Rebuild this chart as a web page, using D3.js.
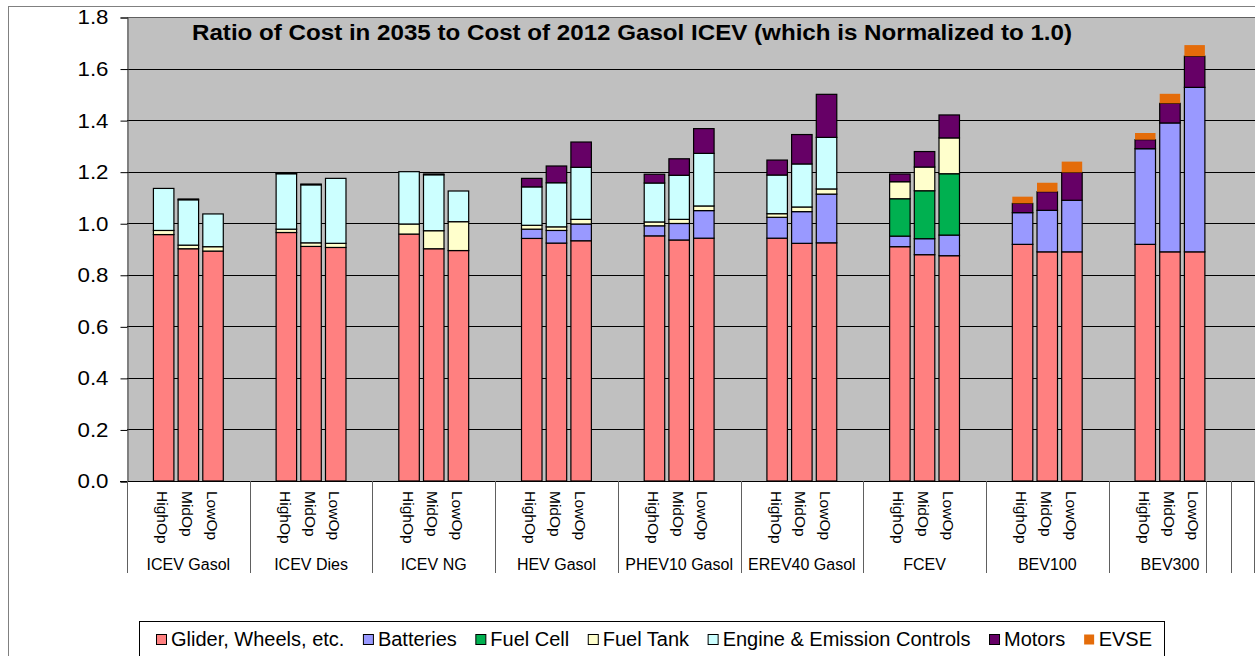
<!DOCTYPE html>
<html>
<head>
<meta charset="utf-8">
<script src="https://cdn.jsdelivr.net/npm/d3@7"></script>
<style>
  body { margin: 0; background: #fff; }
  svg { display: block; font-family: "Liberation Sans", Arial, sans-serif; }
</style>
</head>
<body>
<div id="chart"></div>
<script>
// categories
var groups = ["ICEV Gasol", "ICEV Dies", "ICEV NG", "HEV Gasol", "PHEV10 Gasol", "EREV40 Gasol", "FCEV", "BEV100", "BEV300", ""];
var subs = ["HighOp", "MidOp", "LowOp"];
var yTicks = [0, 0.2, 0.4, 0.6, 0.8, 1.0, 1.2, 1.4, 1.6, 1.8];

// series values, 3 per group (HighOp, MidOp, LowOp), groups in order above
var glider    = [0.956, 0.901, 0.892,  0.964, 0.910, 0.906,  0.958, 0.901, 0.894,  0.941, 0.923, 0.932,  0.951, 0.935, 0.942,  0.942, 0.922, 0.924,  0.909, 0.878, 0.874,  0.918, 0.889, 0.889,  0.918, 0.889, 0.889];
var batteries = [0, 0, 0,              0, 0, 0,              0, 0, 0,              0.036, 0.049, 0.065,  0.039, 0.064, 0.107,  0.081, 0.123, 0.189,  0.041, 0.062, 0.080,  0.123, 0.161, 0.200,  0.371, 0.500, 0.638];
var fuelCell  = [0, 0, 0,              0, 0, 0,              0, 0, 0,              0, 0, 0,              0, 0, 0,              0, 0, 0,              0.145, 0.186, 0.238,  0, 0, 0,              0, 0, 0];
var fuelTank  = [0.016, 0.014, 0.017,  0.013, 0.014, 0.016,  0.039, 0.070, 0.112,  0.015, 0.014, 0.018,  0.015, 0.016, 0.018,  0.014, 0.018, 0.020,  0.066, 0.092, 0.139,  0, 0, 0,              0, 0, 0];
var engine    = [0.163, 0.176, 0.127,  0.215, 0.225, 0.252,  0.203, 0.217, 0.119,  0.149, 0.171, 0.202,  0.151, 0.171, 0.204,  0.150, 0.167, 0.200,  0, 0, 0,              0, 0, 0,              0, 0, 0];
var motors    = [0, 0.003, 0,          0.003, 0.003, 0,      0, 0.003, 0,          0.033, 0.065, 0.098,  0.034, 0.064, 0.096,  0.058, 0.114, 0.167,  0.030, 0.060, 0.089,  0.036, 0.072, 0.108,  0.035, 0.076, 0.121];
var evse      = [0, 0, 0,              0, 0, 0,              0, 0, 0,              0, 0, 0,              0, 0, 0,              0, 0, 0,              0, 0, 0,              0.026, 0.035, 0.042,  0.026, 0.037, 0.043];

var seriesNames = ["Glider, Wheels, etc.", "Batteries", "Fuel Cell", "Fuel Tank", "Engine & Emission Controls", "Motors", "EVSE"];
var seriesValues = [glider, batteries, fuelCell, fuelTank, engine, motors, evse];
var seriesColors = ["#FF8080", "#9999FF", "#00B050", "#FFFFCC", "#CCFFFF", "#660066", "#E46C0A"];

var title = "Ratio of Cost in 2035 to Cost of 2012 Gasol ICEV (which is Normalized to 1.0)";

// build table for d3.stack
var rows = [];
groups.slice(0, 9).forEach(function(g, gi) {
  subs.forEach(function(s, si) {
    var row = { group: g, sub: s };
    seriesNames.forEach(function(n, k) { row[n] = seriesValues[k][gi * 3 + si]; });
    rows.push(row);
  });
});

var width = 1255, height = 656;
var plotLeft = 127, plotTop = 17, plotBottom = 481;
var groupW = 122.7;

var svg = d3.select('#chart').append('svg')
  .attr('width', width)
  .attr('height', height);

// outer chart border
svg.append('rect')
  .attr('x', 8.5).attr('y', 6.5)
  .attr('width', 1400).attr('height', 800)
  .attr('fill', 'none').attr('stroke', '#808080');

var x0 = d3.scaleBand()
  .domain(groups)
  .range([plotLeft, plotLeft + groups.length * groupW]);

var x1 = d3.scaleBand()
  .domain(subs)
  .range([0, x0.bandwidth()])
  .paddingInner(0.17)
  .paddingOuter(1.07);

var y = d3.scaleLinear()
  .domain([0, 1.8])
  .range([plotBottom, plotTop]);

// plot background
svg.append('rect')
  .attr('x', plotLeft).attr('y', plotTop)
  .attr('width', width - plotLeft).attr('height', plotBottom - plotTop)
  .attr('fill', '#C0C0C0');

// gridlines
svg.append('g').selectAll('line')
  .data(yTicks.slice(1))
  .enter().append('line')
  .attr('x1', plotLeft).attr('x2', width)
  .attr('y1', function(d) { return Math.round(y(d)) + 0.5; })
  .attr('y2', function(d) { return Math.round(y(d)) + 0.5; })
  .attr('stroke', function(d) { return d === 1.8 ? '#606060' : '#000'; })
  .attr('stroke-width', 1);

// y axis
var yAxis = svg.append('g').attr('transform', 'translate(' + (plotLeft + 0.5) + ',0.5)')
  .call(d3.axisLeft(y).tickValues(yTicks).tickFormat(d3.format('.1f')).tickSize(7).tickPadding(12));
yAxis.select('.domain').attr('stroke', '#404040');
yAxis.selectAll('.tick line').attr('stroke', '#000');
yAxis.selectAll('text')
  .style('font-size', '20px')
  .style('fill', '#000')
  .attr('textLength', 31)
  .attr('lengthAdjust', 'spacingAndGlyphs');

// stacked bars
var stack = d3.stack().keys(seriesNames);
var stacked = stack(rows);

svg.append('g').selectAll('g')
  .data(stacked)
  .enter().append('g')
  .attr('fill', function(d, i) { return seriesColors[i]; })
  .attr('stroke', function(d) { return d.key === 'EVSE' ? 'none' : '#000'; })
  .attr('stroke-width', 1.2)
  .selectAll('rect')
  .data(function(d) { return d.filter(function(p) { return p[1] - p[0] > 0; }); })
  .enter().append('rect')
  .attr('x', function(d) { return x0(d.data.group) + x1(d.data.sub); })
  .attr('width', x1.bandwidth())
  .attr('y', function(d) { return y(d[1]); })
  .attr('height', function(d) { return y(d[0]) - y(d[1]); });

// x axis line
svg.append('line')
  .attr('x1', plotLeft - 7).attr('x2', width)
  .attr('y1', plotBottom + 0.5).attr('y2', plotBottom + 0.5)
  .attr('stroke', '#000');

// group separators
var seps = groups.map(function(g) { return x0(g); });
seps.push(x0('') - 25, x0('') + 23);
svg.append('g').selectAll('line')
  .data(seps)
  .enter().append('line')
  .attr('x1', function(d) { return Math.round(d) + 0.5; })
  .attr('x2', function(d) { return Math.round(d) + 0.5; })
  .attr('y1', plotBottom).attr('y2', 573)
  .attr('stroke', '#606060');

// sub-category labels (rotated)
svg.append('g').selectAll('text')
  .data(rows)
  .enter().append('text')
  .attr('transform', function(d) {
    var cx = x0(d.group) + x1(d.sub) + x1.bandwidth() / 2;
    return 'translate(' + (cx - 1) + ',' + 491 + ') rotate(90)';
  })
  .attr('dy', '0.35em')
  .style('font-size', '15.5px')
  .text(function(d) { return d.sub; });

// group labels
svg.append('g').selectAll('text')
  .data(groups.slice(0, 9))
  .enter().append('text')
  .attr('x', function(d) { return x0(d) + x0.bandwidth() / 2; })
  .attr('y', 570)
  .attr('text-anchor', 'middle')
  .style('font-size', '16px')
  .text(function(d) { return d; });

// title
svg.append('text')
  .attr('x', 192).attr('y', 40)
  .attr('textLength', 880)
  .attr('lengthAdjust', 'spacingAndGlyphs')
  .style('font-size', '22px')
  .style('font-weight', 'bold')
  .text(title);

// legend
var legend = svg.append('g');
legend.append('rect')
  .attr('x', 139.5).attr('y', 621.5)
  .attr('width', 1025).attr('height', 60)
  .attr('fill', '#fff').attr('stroke', '#000');

var lx = 156;
seriesNames.forEach(function(n, i) {
  legend.append('rect')
    .attr('x', lx + 0.5).attr('y', 634.5)
    .attr('width', 10).attr('height', 10)
    .attr('fill', seriesColors[i])
    .attr('stroke', n === 'EVSE' ? 'none' : '#000');
  var t = legend.append('text')
    .attr('x', lx + 15).attr('y', 646)
    .style('font-size', '20px')
    .text(n);
  lx += 15 + t.node().getComputedTextLength() + 18.5;
});
</script>
</body>
</html>
